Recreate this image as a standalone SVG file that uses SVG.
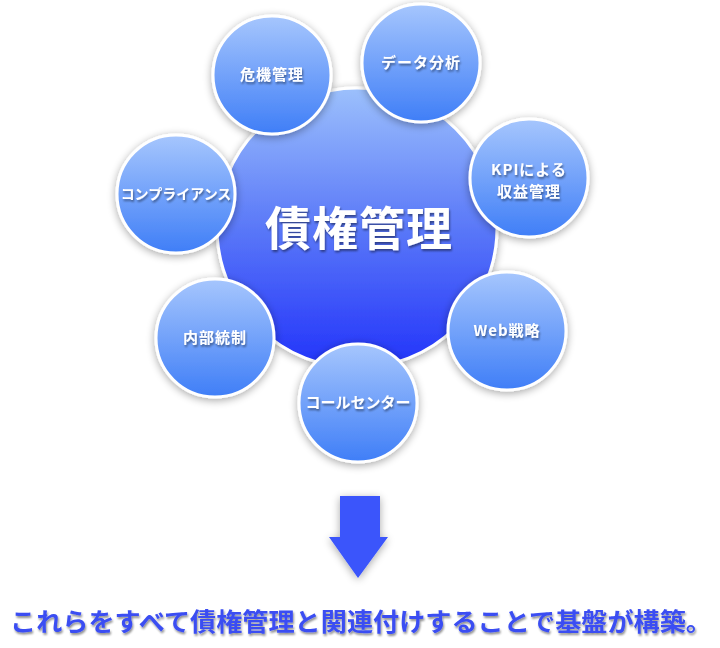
<svg xmlns="http://www.w3.org/2000/svg" width="720" height="648" viewBox="0 0 720 648">
<defs>
<linearGradient id="gBig" x1="0" y1="0" x2="0" y2="1">
<stop offset="0" stop-color="#9cc0fc"/>
<stop offset="0.5" stop-color="#5a78f8"/>
<stop offset="1" stop-color="#2233fa"/>
</linearGradient>
<linearGradient id="gSmall" x1="0" y1="0" x2="0" y2="1">
<stop offset="0" stop-color="#a6c6fd"/>
<stop offset="1" stop-color="#3f7ef7"/>
</linearGradient>
<filter id="sh" x="-30%" y="-30%" width="160%" height="160%">
<feGaussianBlur in="SourceAlpha" stdDeviation="4"/>
<feOffset dx="0" dy="2"/>
<feComponentTransfer><feFuncA type="linear" slope="0.35"/></feComponentTransfer>
<feMerge><feMergeNode/><feMergeNode in="SourceGraphic"/></feMerge>
</filter>
<filter id="ts" x="-10%" y="-30%" width="120%" height="160%">
<feGaussianBlur in="SourceAlpha" stdDeviation="1"/>
<feOffset dx="1" dy="2"/>
<feComponentTransfer><feFuncA type="linear" slope="0.45"/></feComponentTransfer>
<feMerge><feMergeNode/><feMergeNode in="SourceGraphic"/></feMerge>
</filter>
</defs>
<style>
.big{fill:url(#gBig);stroke:#ffffff;stroke-width:3;filter:url(#sh)}
.sm{fill:url(#gSmall);stroke:#ffffff;stroke-width:3;filter:url(#sh)}
.t{font-family:"Noto Sans CJK JP","Liberation Sans",sans-serif;font-weight:bold;fill:#ffffff;text-anchor:middle;filter:url(#ts)}
.ts{font-size:15px;letter-spacing:1px}
</style>
<rect width="720" height="648" fill="#ffffff"/>
<g id="center">
<circle class="big" cx="357" cy="228" r="140"/>
<text class="t" x="359" y="245" font-size="46" letter-spacing="1">債権管理</text>
</g>
<g id="n-kiki">
<circle class="sm" cx="272" cy="75" r="59"/>
<text class="t ts" x="272" y="80">危機管理</text>
</g>
<g id="n-data">
<circle class="sm" cx="421" cy="63" r="59"/>
<text class="t ts" x="421" y="68">データ分析</text>
</g>
<g id="n-kpi">
<circle class="sm" cx="529" cy="178" r="59"/>
<text class="t ts" x="529" y="175">KPIによる</text>
<text class="t ts" x="529" y="197">収益管理</text>
</g>
<g id="n-comp">
<circle class="sm" cx="176" cy="194" r="59"/>
<text class="t" x="176" y="199" font-size="14">コンプライアンス</text>
</g>
<g id="n-web">
<circle class="sm" cx="507" cy="331" r="59"/>
<text class="t ts" x="507" y="336">Web戦略</text>
</g>
<g id="n-naibu">
<circle class="sm" cx="215" cy="338" r="59"/>
<text class="t ts" x="215" y="343">内部統制</text>
</g>
<g id="n-call">
<circle class="sm" cx="358" cy="403" r="59"/>
<text class="t" x="358" y="408" font-size="15">コールセンター</text>
</g>
<g id="connectors">
<path d="M340,496 H380 V537 H388 L358,578 L329,537 H340 Z" fill="#3a55fb" filter="url(#sh)"/>
</g>
<g id="caption">
<text x="361" y="631" text-anchor="middle" font-family="Noto Sans CJK JP,sans-serif" font-weight="bold" font-size="25" fill="#3a4ef2" textLength="702" lengthAdjust="spacingAndGlyphs" filter="url(#ts)">これらをすべて債権管理と関連付けすることで基盤が構築。</text>
</g>
</svg>
